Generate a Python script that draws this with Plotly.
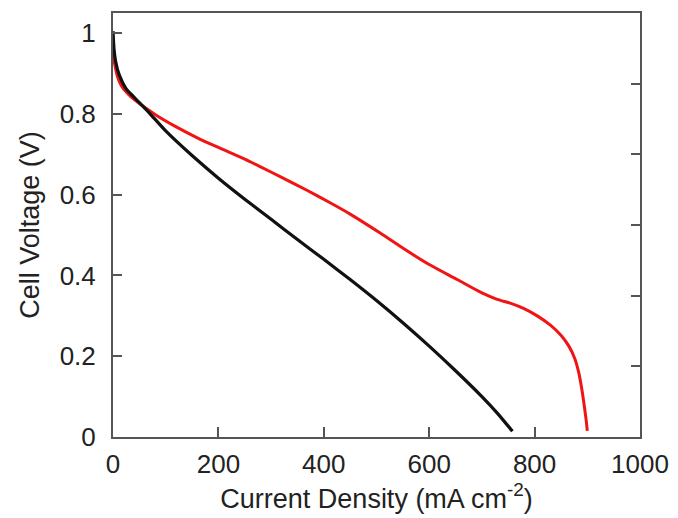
import plotly.graph_objects as go

# Black curve
black_x = [0, 2, 5, 12, 25, 38, 50, 70, 100, 150, 200, 250, 300, 350, 400, 450,
           500, 550, 600, 650, 700, 730, 758]
black_v = [1.005, 0.96, 0.93, 0.896, 0.862, 0.844, 0.828, 0.801, 0.758, 0.697,
           0.641, 0.589, 0.539, 0.489, 0.440, 0.390, 0.338, 0.283, 0.225, 0.164,
           0.100, 0.058, 0.014]

# Red curve
red_x = [0, 3, 8, 13, 20, 30, 40, 50, 82, 120, 160, 200, 250, 280, 320, 368, 412,
         450, 507, 552, 600, 653, 700, 729, 755, 780, 805, 830, 850, 865, 876, 884,
         890, 895, 898, 900]
red_v = [0.95, 0.925, 0.895, 0.877, 0.862, 0.848, 0.836, 0.826, 0.797, 0.768, 0.741,
         0.717, 0.688, 0.669, 0.643, 0.611, 0.580, 0.552, 0.505, 0.466, 0.427, 0.390,
         0.357, 0.341, 0.331, 0.318, 0.300, 0.277, 0.252, 0.225, 0.195, 0.158, 0.115,
         0.07, 0.04, 0.015]

x_ticks = [0, 200, 400, 600, 800, 1000]
y_ticks = [0, 0.2, 0.4, 0.6, 0.8, 1]
right_ticks = [0, 1, 2, 3, 4, 5, 6]

FONT = "Liberation Sans, Arial, sans-serif"
AX = "#555555"
TXT = "#222222"

fig = go.Figure()
fig.add_trace(go.Scatter(x=red_x, y=red_v, mode="lines",
                         line=dict(color="#f01414", width=3, shape="spline", smoothing=0.7),
                         showlegend=False))
fig.add_trace(go.Scatter(x=black_x, y=black_v, mode="lines",
                         line=dict(color="#111111", width=3.2, shape="spline", smoothing=0.7),
                         showlegend=False))
fig.add_trace(go.Scatter(x=[None], y=[None], yaxis="y2", showlegend=False, hoverinfo="skip"))

fig.update_layout(
    width=678, height=518,
    margin=dict(l=113, r=38, t=13, b=81),
    paper_bgcolor="white", plot_bgcolor="white",
    font=dict(family=FONT, color=TXT),
    xaxis=dict(range=[0, 1000], tickvals=x_ticks, ticks="inside", ticklen=10,
               tickwidth=1.5, tickcolor=AX, showline=True, linecolor=AX, linewidth=2,
               mirror=True, showgrid=False, zeroline=False, automargin=False,
               tickfont=dict(size=26, family=FONT, color=TXT),
               ticklabelstandoff=3,
               title=dict(text="Current Density (mA cm<sup>-2</sup>)",
                          font=dict(size=27, family=FONT, color=TXT), standoff=2)),
    yaxis=dict(range=[0, 1.05], tickvals=y_ticks, ticks="inside", ticklen=9,
               tickwidth=1.5, tickcolor=AX, showline=True, linecolor=AX, linewidth=2,
               mirror=True, showgrid=False, zeroline=False, automargin=False,
               tickfont=dict(size=26, family=FONT, color=TXT),
               ticklabelstandoff=10,
               title=dict(text="Cell Voltage (V)",
                          font=dict(size=27, family=FONT, color=TXT), standoff=12)),
    yaxis2=dict(range=[0, 6], tickvals=right_ticks, overlaying="y", side="right",
                ticks="inside", ticklen=9, tickwidth=1.5, tickcolor=AX, automargin=False,
                showticklabels=False, showline=False, showgrid=False, zeroline=False),
)

fig.write_html("out.html")
